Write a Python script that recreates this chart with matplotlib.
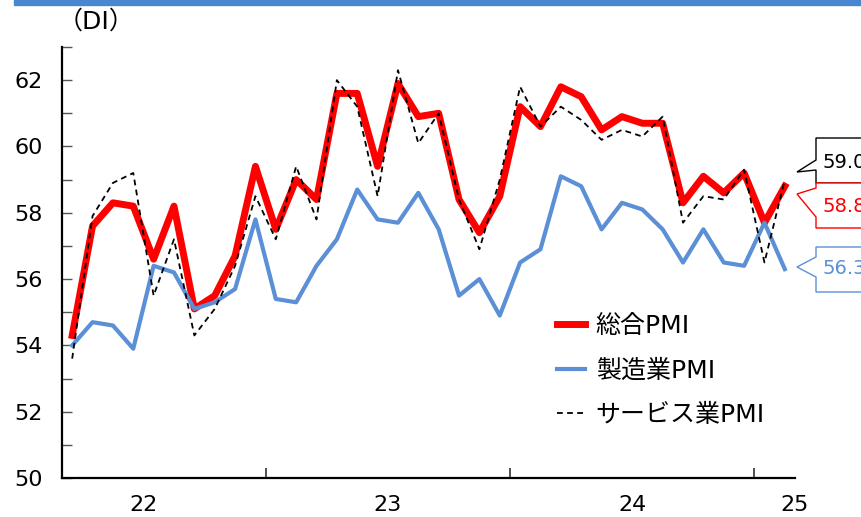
import matplotlib
matplotlib.use("Agg")
import matplotlib.pyplot as plt
from matplotlib.patches import Polygon, Rectangle
import numpy as np

plt.rcParams['font.family'] = ['DejaVu Sans', 'Noto Sans CJK JP']

# Monthly data, 2022-03 .. 2025-02
composite = [54.3, 57.6, 58.3, 58.2, 56.6, 58.2, 55.1, 55.5, 56.7, 59.4,
             57.5, 59.0, 58.4, 61.6, 61.6, 59.4, 61.9, 60.9, 61.0, 58.4, 57.4, 58.5,
             61.2, 60.6, 61.8, 61.5, 60.5, 60.9, 60.7, 60.7, 58.3, 59.1, 58.6, 59.2,
             57.7, 58.8]
manufacturing = [54.0, 54.7, 54.6, 53.9, 56.4, 56.2, 55.1, 55.3, 55.7, 57.8,
                 55.4, 55.3, 56.4, 57.2, 58.7, 57.8, 57.7, 58.6, 57.5, 55.5, 56.0, 54.9,
                 56.5, 56.9, 59.1, 58.8, 57.5, 58.3, 58.1, 57.5, 56.5, 57.5, 56.5, 56.4,
                 57.7, 56.3]
services = [53.6, 57.9, 58.9, 59.2, 55.5, 57.2, 54.3, 55.1, 56.4, 58.5,
            57.2, 59.4, 57.8, 62.0, 61.2, 58.5, 62.3, 60.1, 61.0, 58.4, 56.9, 59.0,
            61.8, 60.6, 61.2, 60.8, 60.2, 60.5, 60.3, 60.9, 57.7, 58.5, 58.4, 59.3,
            56.5, 59.0]
series_labels = ['総合PMI', '製造業PMI', 'サービス業PMI']
year_labels = ['22', '23', '24', '25']
year_label_pos = [3.5, 15.5, 27.5, 35.5]
year_boundaries = [9.5, 21.5, 33.5]

W, H = 861, 517
fig = plt.figure(figsize=(W / 100, H / 100), dpi=100)

def px(x, y):
    return (x / W, 1 - y / H)

ax_l, ax_r, ax_t, ax_b = 62, 795, 47, 478
ax = fig.add_axes([ax_l / W, 1 - ax_b / H, (ax_r - ax_l) / W, (ax_b - ax_t) / H])

x = np.arange(len(composite))
red = '#ff0000'
blue = '#5b8fd6'
ax.plot(x, composite, color=red, lw=5.0, zorder=2, label=series_labels[0])
ax.plot(x, manufacturing, color=blue, lw=3.0, zorder=3, label=series_labels[1])
ax.plot(x, services, color='black', lw=1.3, dashes=(3.2, 2.4), zorder=4, label=series_labels[2])

ax.set_xlim(-0.5, 35.5)
ax.set_ylim(50, 63)

for s in ['top', 'right']:
    ax.spines[s].set_visible(False)
for s in ['left', 'bottom']:
    ax.spines[s].set_linewidth(1.6)
    ax.spines[s].set_color('black')

ax.set_yticks(np.arange(50, 63, 2))
ax.set_yticks(np.arange(51, 64, 1), minor=True)
ax.tick_params(axis='y', which='both', direction='in', length=7.5, width=1.0,
               color='#555555', labelsize=16, pad=14)
ax.set_xticks(year_boundaries)
ax.set_xticklabels([])
ax.set_xticks(year_label_pos, minor=True)
ax.set_xticklabels(year_labels, minor=True)
ax.tick_params(axis='x', which='major', direction='in', length=7.5, width=1.2, color='#333333')
ax.tick_params(axis='x', which='minor', length=0, labelsize=16, pad=12)

# header bar
fig.patches.append(Rectangle(px(14, 5), (W - 14) / W, 5 / H, transform=fig.transFigure,
                             color='#4a86d0', zorder=0))

fig.text(*px(58, 22), '（DI）', fontsize=18, ha='left', va='center')

leg = ax.legend(loc='upper left', bbox_to_anchor=((557 - ax_l) / (ax_r - ax_l), (ax_b - 314) / (ax_b - ax_t)),
                frameon=False, fontsize=18, handlelength=1.1, handletextpad=0.45,
                labelspacing=0.82, borderaxespad=0, borderpad=0)

# callouts
def callout(top, bottom, p1, tip, p2, color, text, ty):
    pts = [px(870, top), px(816, top), px(816, p1), px(*tip), px(816, p2),
           px(816, bottom), px(870, bottom)]
    fig.patches.append(Polygon(pts, closed=False, transform=fig.transFigure,
                               fill=True, facecolor='white', edgecolor=color, lw=1.0, zorder=5))
    fig.text(*px(823, ty), text, color=color, fontsize=14, ha='left', va='center', zorder=6)

callout(138, 183, 160, (797, 172), 170, 'black', f'{services[-1]:.1f}', 162)
callout(183, 228, 188, (797, 194), 217, red, f'{composite[-1]:.1f}', 207)
callout(247, 292, 257, (797, 267), 277, blue, f'{manufacturing[-1]:.1f}', 268)

fig.savefig('out.png', dpi=100)
